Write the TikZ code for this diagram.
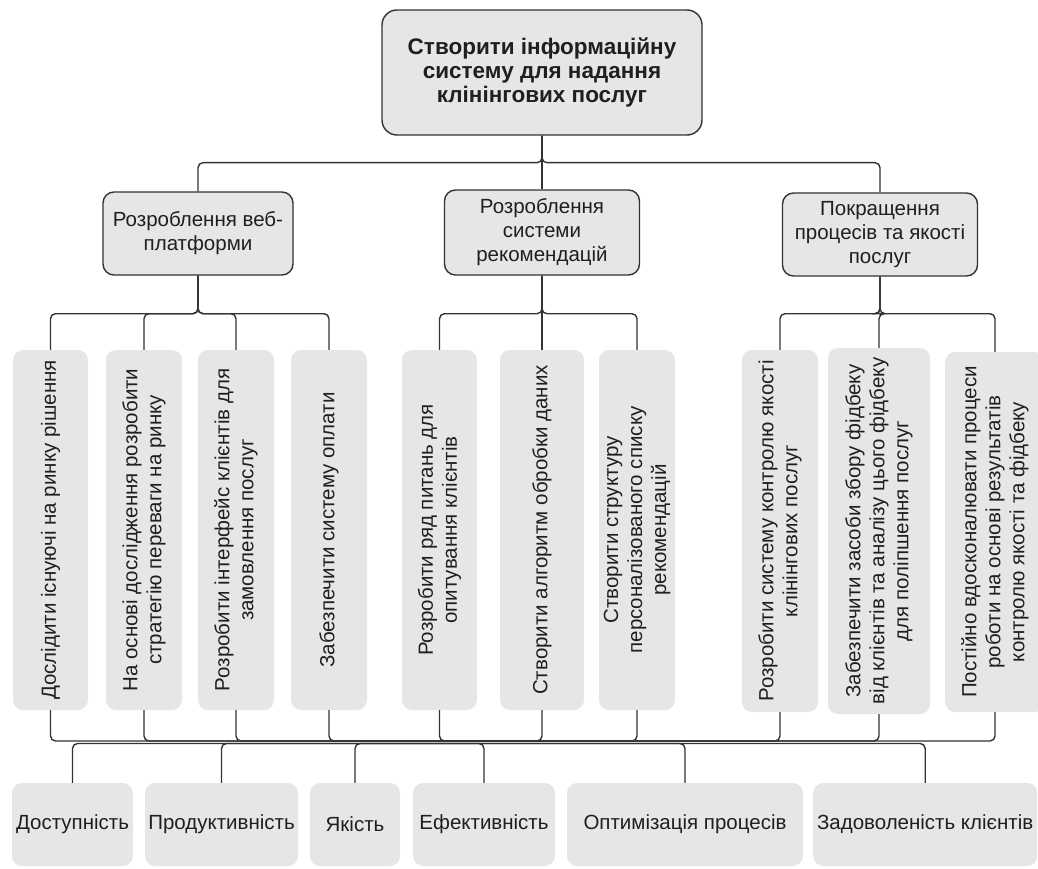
\documentclass[tikz,border=0pt]{standalone}
\usepackage{fontspec}
\setmainfont{Liberation Sans}

\definecolor{boxgray}{HTML}{E6E6E6}
\definecolor{edgegray}{HTML}{333333}
\definecolor{inkgray}{HTML}{1F1F1F}

\tikzset{
  boxtext/.style={inner sep=0pt, align=center, text=inkgray, font=\fontsize{20.5}{24}\selectfont},
  headbox/.style={boxtext, draw=edgegray, line width=1.4pt, fill=boxgray, rounded corners=11pt},
  leafbox/.style={boxtext, fill=boxgray, rounded corners=10pt, rotate=90},
  goalbox/.style={boxtext, fill=boxgray, rounded corners=10pt},
  link/.style={draw=edgegray, line width=1.4pt, rounded corners=5pt},
}

\begin{document}
\begin{tikzpicture}[x=1pt, y=-1pt]
          \useasboundingbox (0, 0) rectangle (1038, 869);
          \clip (0, 0) rectangle (1038, 869);
          % goal and directions
          \node[headbox, rounded corners=15pt, minimum width=320, minimum height=125, font=\bfseries\fontsize{22.5}{24}\selectfont] (root) at (542, 72.5) {Створити інформаційну \\ систему для надання \\ клінінгових послуг};
          \node[headbox, minimum width=190, minimum height=83] (web) at (198, 233.5) {Розроблення веб- \\ платформи};
          \node[headbox, minimum width=195, minimum height=85] (recsys) at (542, 232.5) {Розроблення \\ системи \\ рекомендацій};
          \node[headbox, minimum width=195, minimum height=83] (quality) at (880, 234.5) {Покращення \\ процесів та якості \\ послуг};
          % tasks (rotated, so east is the top and west the bottom)
          \node[leafbox, minimum width=360, minimum height=75] (market) at (50.5, 530) {Дослідити існуючі на ринку рішення};
          \node[leafbox, minimum width=360, minimum height=76] (strategy) at (144, 530) {На основі дослідження розробити \\ стратегію переваги на ринку};
          \node[leafbox, minimum width=360, minimum height=76] (iface) at (236, 530) {Розробити інтерфейс клієнтів для \\ замовлення послуг};
          \node[leafbox, minimum width=360, minimum height=76] (payment) at (329, 530) {Забезпечити систему оплати};
          \node[leafbox, minimum width=360, minimum height=75] (survey) at (439.5, 530) {Розробити ряд питань для \\ опитування клієнтів};
          \node[leafbox, minimum width=360, minimum height=84] (algo) at (542, 530) {Створити алгоритм обробки даних};
          \node[leafbox, minimum width=360, minimum height=76] (recstruct) at (637, 530) {Створити структуру \\ персоналізованого списку \\ рекомендацій};
          \node[leafbox, minimum width=362, minimum height=76] (qctrl) at (780, 531) {Розробити систему контролю якості \\ клінінгових послуг};
          \node[leafbox, minimum width=366, minimum height=102] (feedback) at (879, 531) {Забезпечити засоби збору фідбеку \\ від клієнтів та аналізу цього фідбеку \\ для поліпшення послуг};
          \node[leafbox, minimum width=360, minimum height=100] (improve) at (995, 532) {Постійно вдосконалювати процеси \\ роботи на основі результатів \\ контролю якості та фідбеку};
          % results
          \node[goalbox, minimum width=121, minimum height=83] (access) at (72.5, 824.5) {Доступність};
          \node[goalbox, minimum width=153, minimum height=83] (product) at (221.5, 824.5) {Продуктивність};
          \node[goalbox, minimum width=90, minimum height=83] (qual) at (355, 824.5) {Якість};
          \node[goalbox, minimum width=142, minimum height=83] (effic) at (484, 824.5) {Ефективність};
          \node[goalbox, minimum width=236, minimum height=83] (optim) at (685, 824.5) {Оптимізація процесів};
          \node[goalbox, anchor=west, minimum width=224, minimum height=83] (satisf) at (813, 824.5) {Задоволеність клієнтів};
          %
          \draw[link] (root.south) -- ++(0, 27) -| (web.north);
          \draw[link] (root.south) -- (recsys.north);
          \draw[link] (root.south) -- ++(0, 27) -| (quality.north);
          %
          \foreach \leaf in {market, strategy, iface, payment}
            \draw[link] (web.south) -- ++(0, 38) -| (\leaf.east);
          \foreach \leaf in {survey, algo, recstruct}
            \draw[link] (recsys.south) -- ++(0, 38) -| (\leaf.east);
          \foreach \leaf in {qctrl, feedback, improve}
            \draw[link] (quality.south) -- ++(0, 37) -| (\leaf.east);
          %
          \coordinate (hubin) at (462, 741);
          \coordinate (hubout) at (462, 743.5);
          \foreach \leaf in {market, strategy, iface, payment, survey, algo, recstruct, qctrl, feedback, improve}
            \draw[link] (\leaf.west) |- (hubin);
          \foreach \goal in {access, product, qual, effic, optim, satisf}
            \draw[link] (hubout) -| (\goal.north);
        \end{tikzpicture}
\end{document}
